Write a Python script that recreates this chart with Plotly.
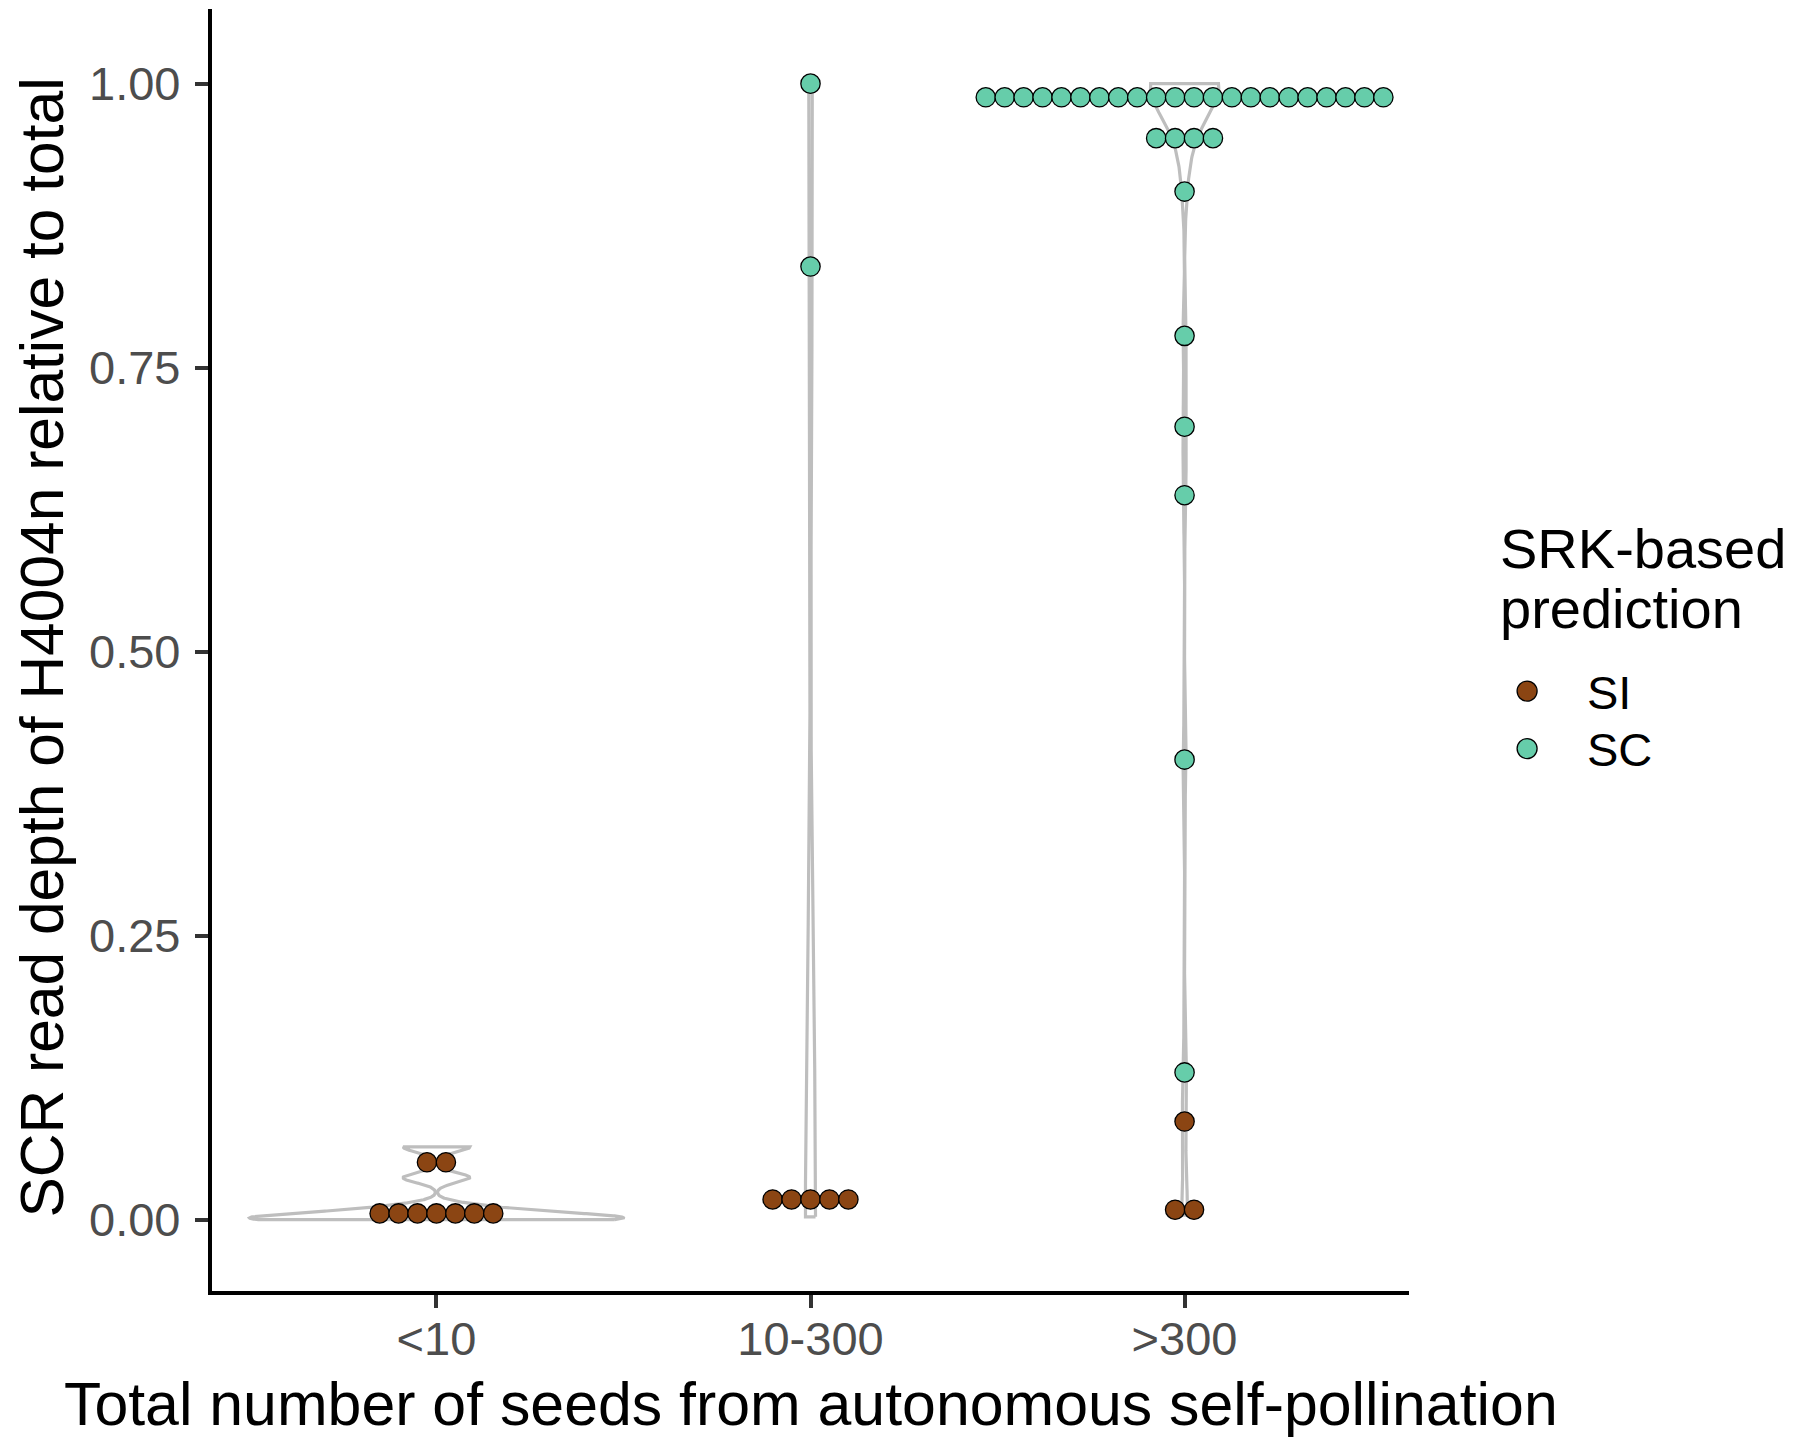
import numpy as np
import plotly.graph_objects as go

# ---------------- data ----------------
categories = ["<10", "10-300", ">300"]
classes = ["SI", "SC"]

lt10_SI = [0.0, 0.0, 0.00056, 0.0011, 0.0023, 0.0057, 0.011, 0.037, 0.064]
lt10_SC = []
mid_SI = [0.0025, 0.010, 0.018, 0.026, 0.033]
mid_SC = [0.839, 1.0]
gt300_SI = [0.004, 0.0135, 0.0864]
gt300_SC = [0.1296, 0.405, 0.6377, 0.698, 0.778, 0.905,
            0.940, 0.948, 0.956, 0.964,
            0.976, 0.995, 0.996, 0.997, 0.998, 0.998, 0.999, 0.999, 0.999,
            1.0, 1.0, 1.0, 1.0, 1.0, 1.0, 1.0, 1.0, 1.0, 1.0, 1.0, 1.0, 1.0]

values = {
    "<10": {"SI": lt10_SI, "SC": lt10_SC},
    "10-300": {"SI": mid_SI, "SC": mid_SC},
    ">300": {"SI": gt300_SI, "SC": gt300_SC},
}

y_ticks = [0.0, 0.25, 0.50, 0.75, 1.00]
y_tick_labels = ["0.00", "0.25", "0.50", "0.75", "1.00"]

legend_title = ["SRK-based", "prediction"]

# ---------------- style ----------------
W, H = 1796, 1429          # page adds an 8px body margin
ML, MR, MT, MB = 204, 395, 1, 146
XR = [0.4, 3.6]
YR = [-0.0628, 1.0657]
colors = {"SI": "#8B4513", "SC": "#66CDAA"}
FONT = "Liberation Sans, Arial, sans-serif"
VIOLIN_WIDTH = 1.0
DOTSIZE = 0.5

plot_w = W - ML - MR
plot_h = H - MT - MB
plot_bottom = MT + plot_h
px_per_x = plot_w / (XR[1] - XR[0])
px_per_y = plot_h / (YR[1] - YR[0])


def px_x(fx):
    return (fx - ML) / plot_w


def px_y(fy):
    return (plot_bottom - fy) / plot_h


def bw_nrd0(x):
    x = np.asarray(x, float)
    hi = np.std(x, ddof=1)
    iqr = np.percentile(x, 75) - np.percentile(x, 25)
    lo = min(hi, iqr / 1.34)
    if not lo:
        lo = hi or abs(x[0]) or 1.0
    return 0.9 * lo * len(x) ** -0.2


def kde(x, grid):
    x = np.asarray(x, float)
    h = bw_nrd0(x)
    z = (grid[:, None] - x[None, :]) / h
    return np.exp(-0.5 * z ** 2).sum(axis=1) / (len(x) * h * np.sqrt(2 * np.pi))


fig = go.Figure()

# violins (scale = "area": common normalisation across groups)
dens = {}
for cat in categories:
    allv = np.array(values[cat]["SI"] + values[cat]["SC"], float)
    grid = np.linspace(allv.min(), allv.max(), 512)
    dens[cat] = (grid, kde(allv, grid))
dmax = max(d.max() for _, d in dens.values())

for i, cat in enumerate(categories, start=1):
    grid, d = dens[cat]
    hw = VIOLIN_WIDTH / 2 * d / dmax
    xs = np.concatenate([i + hw, (i - hw)[::-1], [i + hw[0]]])
    ys = np.concatenate([grid, grid[::-1], [grid[0]]])
    fig.add_trace(go.Scatter(x=xs, y=ys, mode="lines",
                             line=dict(color="#BEBEBE", width=3.2),
                             hoverinfo="skip", showlegend=False))

# dot plot (dotdensity binning along y, centred stacking)
all_y = [v for cat in categories for c in classes for v in values[cat][c]]
binwidth = (max(all_y) - min(all_y)) / 30
dot_d_y = binwidth * DOTSIZE
dot_px = dot_d_y * px_per_y
dot_d_x = dot_px / px_per_x


def dotdensity(x, bw):
    x = sorted(x)
    bins = []
    end = -np.inf
    for v in x:
        if v >= end:
            bins.append([v])
            end = v + bw
        else:
            bins[-1].append(v)
    return [((min(b) + max(b)) / 2, len(b)) for b in bins]


for c in classes:
    xs, ys = [], []
    for i, cat in enumerate(categories, start=1):
        for center, n in dotdensity(values[cat][c], binwidth):
            for k in range(n):
                xs.append(i + (k - (n - 1) / 2) * dot_d_x)
                ys.append(center)
    fig.add_trace(go.Scatter(x=xs, y=ys, mode="markers", name=c,
                             showlegend=False,
                             marker=dict(color=colors[c], size=dot_px + 0.4,
                                         line=dict(color="black", width=1.3))))

axis_common = dict(showgrid=False, zeroline=False, showline=True,
                   linecolor="black", linewidth=4.2, ticks="outside",
                   ticklen=13, tickwidth=3.8, tickcolor="#333333",
                   tickfont=dict(family=FONT, size=47, color="#4D4D4D"))

fig.update_layout(
    width=W, height=H,
    margin=dict(l=ML, r=MR, t=MT, b=MB, pad=0),
    paper_bgcolor="white", plot_bgcolor="white",
    font=dict(family=FONT, color="black"),
    xaxis=dict(range=XR, tickvals=[1, 2, 3], ticktext=categories,
               ticklabelstandoff=-10, **axis_common),
    yaxis=dict(range=YR, tickvals=y_ticks, ticktext=y_tick_labels,
               ticklabelstandoff=5, **axis_common),
    showlegend=False,
)

fig.add_annotation(text="Total number of seeds from autonomous self-pollination",
                   xref="paper", yref="paper", showarrow=False,
                   x=0.5, y=px_y(1395.9), xanchor="center", yanchor="middle",
                   font=dict(family=FONT, size=60.8, color="black"))
fig.add_annotation(text="SCR read depth of H4004n relative to total",
                   xref="paper", yref="paper", showarrow=False,
                   x=px_x(33.5), y=px_y(640), textangle=-90,
                   xanchor="center", yanchor="middle",
                   font=dict(family=FONT, size=60.5, color="black"))

# legend: title, keys and labels
leg = dict(xref="paper", yref="paper", showarrow=False, xanchor="left",
           yanchor="middle")
for line, fy in zip(legend_title, [540.8, 600.8]):
    fig.add_annotation(text=line, x=px_x(1489.5), y=px_y(fy),
                       font=dict(family=FONT, size=56, color="black"), **leg)
KEY_X, KEY_Y0, KEY_DY, KEY_R = 1519.1, 683.1, 57.5, 10
for j, c in enumerate(classes):
    fy = KEY_Y0 + j * KEY_DY
    fig.add_shape(type="circle", xref="paper", yref="paper",
                  xsizemode="pixel", ysizemode="pixel",
                  xanchor=px_x(KEY_X), yanchor=px_y(fy),
                  x0=-KEY_R, x1=KEY_R, y0=-KEY_R, y1=KEY_R,
                  fillcolor=colors[c], line=dict(color="black", width=1.3))
    fig.add_annotation(text=c, x=px_x(1576.6), y=px_y(fy + 1),
                       font=dict(family=FONT, size=47, color="black"), **leg)

fig.write_html("out.html")
